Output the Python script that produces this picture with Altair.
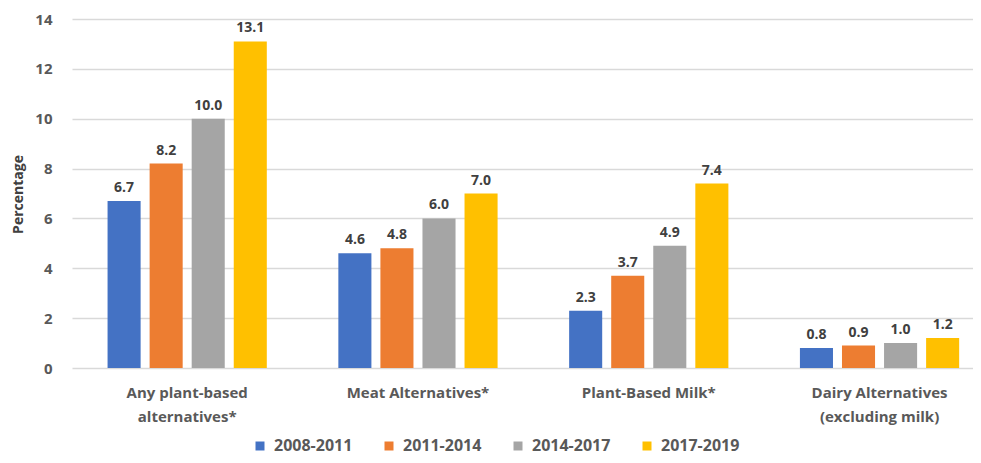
import altair as alt
import pandas as pd

categories = ["Any plant-based|alternatives*", "Meat Alternatives*", "Plant-Based Milk*", "Dairy Alternatives|(excluding milk)"]
periods = ["2008-2011", "2011-2014", "2014-2017", "2017-2019"]
v_2008_2011 = [6.7, 4.6, 2.3, 0.8]
v_2011_2014 = [8.2, 4.8, 3.7, 0.9]
v_2014_2017 = [10.0, 6.0, 4.9, 1.0]
v_2017_2019 = [13.1, 7.0, 7.4, 1.2]
colors = ["#4472C4", "#ED7D31", "#A5A5A5", "#FFC000"]
y_ticks = [0, 2, 4, 6, 8, 10, 12, 14]

series = [v_2008_2011, v_2011_2014, v_2014_2017, v_2017_2019]
rows = []
for p, vals in zip(periods, series):
    for c, v in zip(categories, vals):
        rows.append({"category": c, "period": p, "value": v})
df = pd.DataFrame(rows)

FONT = "Open Sans"

x_enc = alt.X(
    "category:N",
    sort=categories,
    scale=alt.Scale(paddingInner=0.31, paddingOuter=0.107, align=0.72),
    axis=alt.Axis(
        title=None, labelAngle=0, domain=False, ticks=False, tickSize=0,
        labelExpr="split(datum.label, '|')", labelFont=FONT, labelFontSize=15,
        labelFontWeight="bold", labelColor="#595959", labelLineHeight=24,
        labelBaseline="top", labelPadding=17,
    ),
)
xoff_enc = alt.XOffset("period:N", sort=periods, scale=alt.Scale(paddingInner=0.214, paddingOuter=0))
y_enc = alt.Y(
    "value:Q",
    scale=alt.Scale(domain=[0, 14], nice=False),
    axis=alt.Axis(
        values=y_ticks, title="Percentage", domain=False, ticks=False, tickSize=0,
        grid=True, gridColor="#d9d9d9", gridWidth=1.5,
        labelFont=FONT, labelFontSize=15, labelFontWeight="bold", labelColor="#595959",
        labelPadding=20,
        titleFont=FONT, titleFontSize=14, titleFontWeight="bold", titleColor="#404040",
        titleX=-54, titleY=175, titleAngle=270, titleAlign="center", titleBaseline="middle",
    ),
)
color_enc = alt.Color(
    "period:N",
    sort=periods,
    scale=alt.Scale(domain=periods, range=colors),
    legend=alt.Legend(
        title=None, orient="none", legendX=180, legendY=419, direction="horizontal",
        columns=4, symbolType="square", symbolSize=81, symbolStrokeWidth=0,
        labelFont=FONT, labelFontSize=16, labelFontWeight="bold", labelColor="#595959",
        labelOffset=6, columnPadding=28, padding=0,
    ),
)

bars = alt.Chart(df).mark_bar().encode(x=x_enc, xOffset=xoff_enc, y=y_enc, color=color_enc)
labels = alt.Chart(df).mark_text(
    baseline="bottom", dy=-6, font=FONT, fontSize=14, fontWeight="bold", color="#404040"
).encode(x=x_enc, xOffset=xoff_enc, y=y_enc, text=alt.Text("value:Q", format=".1f"))

chart = alt.layer(bars, labels).properties(
    width=901, height=349,
    autosize=alt.AutoSizeParams(type="none"),
    padding={"left": 64, "top": 11, "right": 0, "bottom": 87},
).configure_view(stroke=None)

chart.save("out.html", embed_options={"renderer": "svg", "actions": False})
